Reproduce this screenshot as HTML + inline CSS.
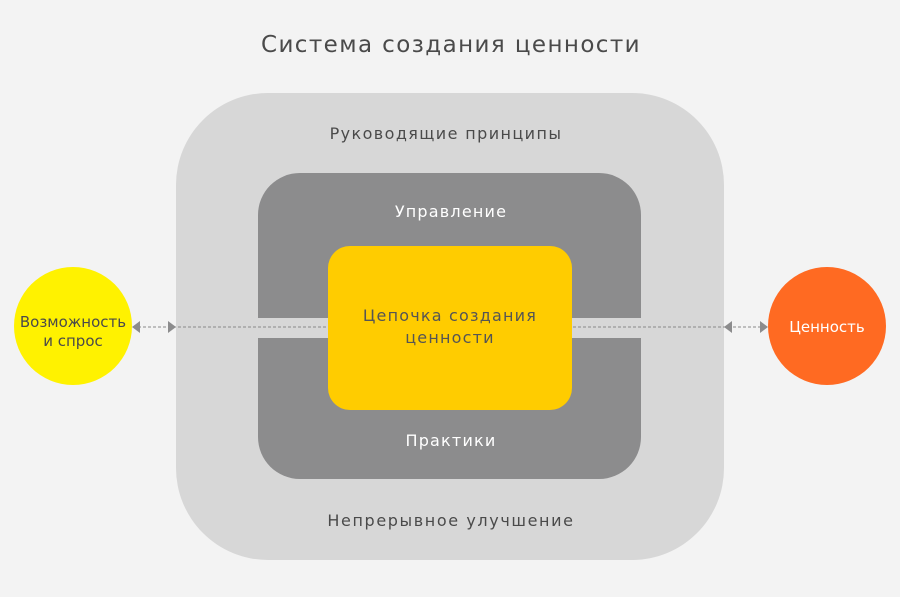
<!DOCTYPE html>
<html><head><meta charset="utf-8"><style>
html,body{margin:0;padding:0;background:#f3f3f3;}
svg{display:block;}
text{font-family:"DejaVu Sans","Liberation Sans",sans-serif;}
</style></head><body>
<svg width="900" height="597" viewBox="0 0 900 597" xmlns="http://www.w3.org/2000/svg">
<rect width="900" height="597" fill="#f3f3f3"/>
<text x="451" y="52" text-anchor="middle" font-size="23" fill="#4a4a4a" letter-spacing="1.4">Система создания ценности</text>
<rect x="176" y="93" width="548" height="467" rx="92" fill="#d7d7d7"/>
<text x="446" y="139" text-anchor="middle" font-size="16" fill="#4a4a4a" letter-spacing="1.4">Руководящие принципы</text>
<text x="451" y="526" text-anchor="middle" font-size="16" fill="#4a4a4a" letter-spacing="1.6">Непрерывное улучшение</text>
<rect x="258" y="173" width="383" height="306" rx="42" fill="#8c8c8d"/>
<rect x="258" y="318" width="383" height="20" fill="#d7d7d7"/>
<text x="451" y="217" text-anchor="middle" font-size="16" fill="#ffffff" letter-spacing="1.2">Управление</text>
<text x="451" y="446" text-anchor="middle" font-size="16" fill="#ffffff" letter-spacing="1.2">Практики</text>
<line x1="138" y1="327" x2="762" y2="327" stroke="#8a8a8a" stroke-width="1" stroke-dasharray="3,2"/>
<rect x="328" y="246" width="244" height="164" rx="22" fill="#ffcc00"/>
<text x="450" y="321" text-anchor="middle" font-size="16" fill="#555" letter-spacing="1.2">Цепочка создания</text>
<text x="450" y="343" text-anchor="middle" font-size="16" fill="#555" letter-spacing="1.2">ценности</text>
<polygon points="132,327 140,321 140,333" fill="#8c8c8d"/>
<polygon points="176,327 168,321 168,333" fill="#8c8c8d"/>
<polygon points="724,327 732,321 732,333" fill="#8c8c8d"/>
<polygon points="768,327 760,321 760,333" fill="#8c8c8d"/>
<circle cx="73" cy="326" r="59" fill="#fff200"/>
<text x="73" y="327" text-anchor="middle" font-size="15" fill="#4a4a4a">Возможность</text>
<text x="73" y="346" text-anchor="middle" font-size="15" fill="#4a4a4a">и спрос</text>
<circle cx="827" cy="326" r="59" fill="#ff6a22"/>
<text x="827" y="332" text-anchor="middle" font-size="15" fill="#ffffff">Ценность</text>
</svg>
</body></html>
